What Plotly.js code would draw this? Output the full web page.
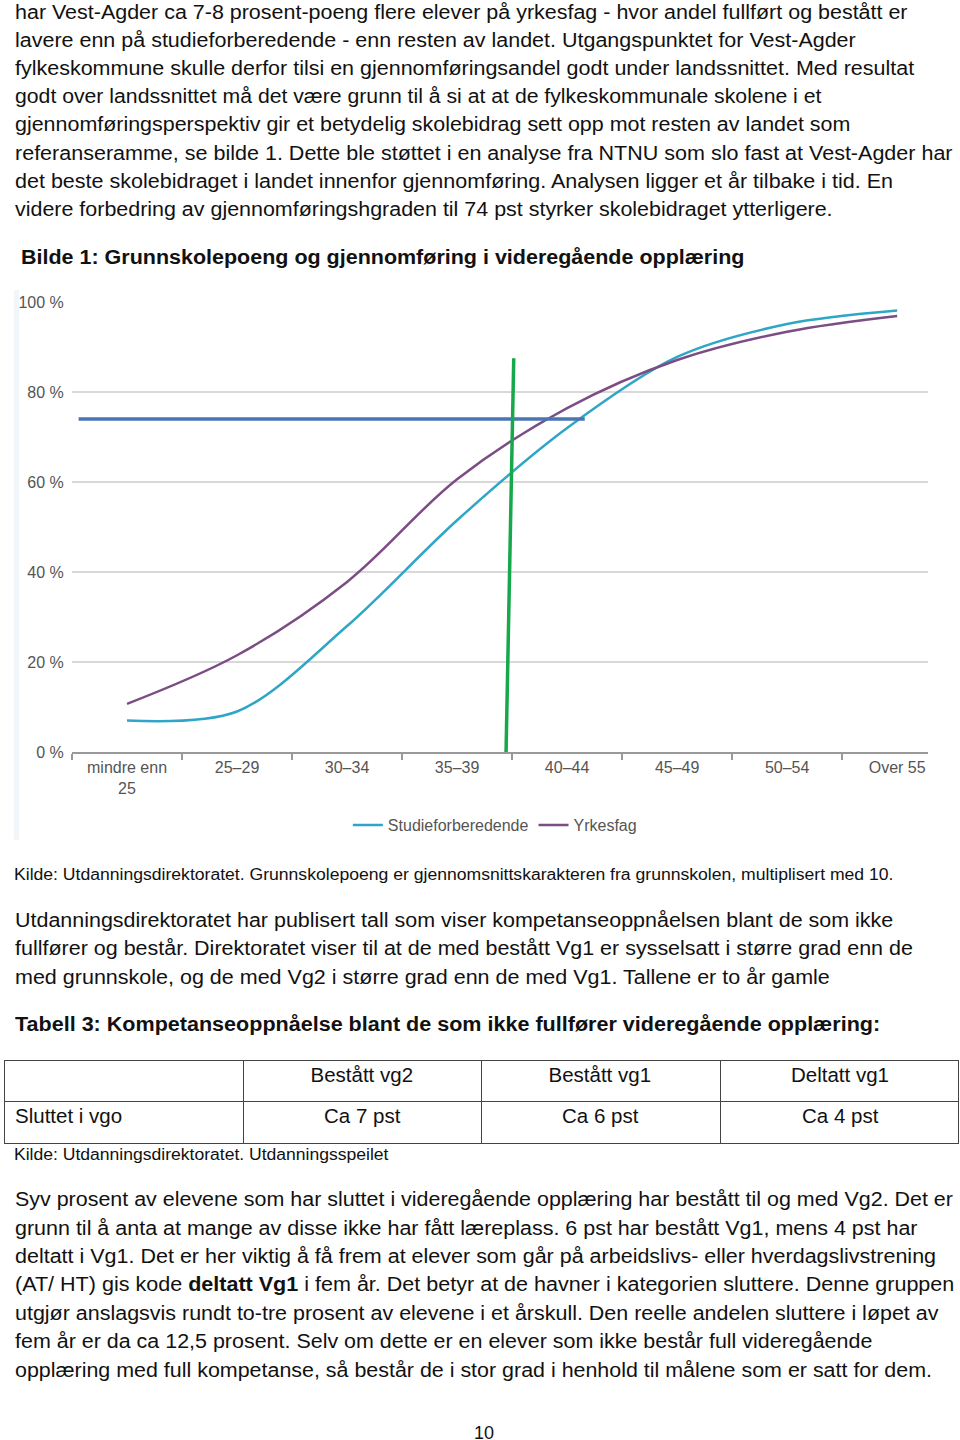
<!DOCTYPE html>
<html><head><meta charset="utf-8">
<script src="https://cdn.plot.ly/plotly-3.0.1.min.js"></script>
<style>
html,body{margin:0;padding:0;background:#fff;}
body{width:960px;height:1440px;position:relative;overflow:hidden;font-family:"Liberation Sans",Arial,sans-serif;color:#111;}
.ln{position:absolute;white-space:nowrap;transform-origin:0 0;line-height:1;}
#chart{position:absolute;left:0;top:290px;width:960px;height:550px;}
#stripe{position:absolute;left:14px;top:290px;width:5px;height:550px;background:#f1f6fb;}
#tbl{position:absolute;left:4px;top:1060px;width:955px;height:83px;border-collapse:collapse;}
#tbl td{border:1.2px solid #444;padding:0;}
</style></head><body>

<div class="ln" data-l="15" data-b="18.5" data-r="908" data-s="20">har Vest-Agder ca 7-8 prosent-poeng flere elever på yrkesfag - hvor andel fullført og bestått er</div>
<div class="ln" data-l="15" data-b="46.7" data-r="856" data-s="20">lavere enn på studieforberedende - enn resten av landet. Utgangspunktet for Vest-Agder</div>
<div class="ln" data-l="15" data-b="74.9" data-r="914" data-s="20">fylkeskommune skulle derfor tilsi en gjennomføringsandel godt under landssnittet. Med resultat</div>
<div class="ln" data-l="15" data-b="103.1" data-r="821" data-s="20">godt over landssnittet må det være grunn til å si at at de fylkeskommunale skolene i et</div>
<div class="ln" data-l="15" data-b="131.3" data-r="850" data-s="20">gjennomføringsperspektiv gir et betydelig skolebidrag sett opp mot resten av landet som</div>
<div class="ln" data-l="15" data-b="159.5" data-r="952" data-s="20">referanseramme, se bilde 1. Dette ble støttet i en analyse fra NTNU som slo fast at Vest-Agder har</div>
<div class="ln" data-l="15" data-b="187.7" data-r="893" data-s="20">det beste skolebidraget i landet innenfor gjennomføring. Analysen ligger et år tilbake i tid. En</div>
<div class="ln" data-l="15" data-b="215.9" data-r="833" data-s="20">videre forbedring av gjennomføringshgraden til 74 pst styrker skolebidraget ytterligere.</div>

<div class="ln" data-l="21" data-b="264" data-r="744" data-s="20"><b>Bilde 1: Grunnskolepoeng og gjennomføring i videregående opplæring</b></div>

<div id="stripe"></div>
<div id="chart"></div>

<div class="ln" data-l="14" data-b="881" data-r="893" data-s="16">Kilde: Utdanningsdirektoratet. Grunnskolepoeng er gjennomsnittskarakteren fra grunnskolen, multiplisert med 10.</div>

<div class="ln" data-l="15" data-b="927" data-r="893" data-s="20">Utdanningsdirektoratet har publisert tall som viser kompetanseoppnåelsen blant de som ikke</div>
<div class="ln" data-l="15" data-b="955" data-r="913" data-s="20">fullfører og består. Direktoratet viser til at de med bestått Vg1 er sysselsatt i større grad enn de</div>
<div class="ln" data-l="15" data-b="984" data-r="830" data-s="20">med grunnskole, og de med Vg2 i større grad enn de med Vg1. Tallene er to år gamle</div>

<div class="ln" data-l="15" data-b="1031" data-r="880" data-s="20"><b>Tabell 3: Kompetanseoppnåelse blant de som ikke fullfører videregående opplæring:</b></div>

<table id="tbl"><tr style="height:41px"><td></td><td></td><td></td><td></td></tr><tr style="height:42px"><td></td><td></td><td></td><td></td></tr></table>
<div class="ln" data-c="362" data-b="1082" data-s="20.5">Bestått vg2</div>
<div class="ln" data-c="600" data-b="1082" data-s="20.5">Bestått vg1</div>
<div class="ln" data-c="840" data-b="1082" data-s="20.5">Deltatt vg1</div>
<div class="ln" data-l="15" data-b="1123" data-s="20.5">Sluttet i vgo</div>
<div class="ln" data-c="362" data-b="1123" data-s="20.5">Ca 7 pst</div>
<div class="ln" data-c="600" data-b="1123" data-s="20.5">Ca 6 pst</div>
<div class="ln" data-c="840" data-b="1123" data-s="20.5">Ca 4 pst</div>

<div class="ln" data-l="14" data-b="1161" data-r="389" data-s="16">Kilde: Utdanningsdirektoratet. Utdanningsspeilet</div>

<div class="ln" data-l="15" data-b="1206" data-r="953" data-s="20">Syv prosent av elevene som har sluttet i videregående opplæring har bestått til og med Vg2. Det er</div>
<div class="ln" data-l="15" data-b="1235" data-r="917" data-s="20">grunn til å anta at mange av disse ikke har fått læreplass. 6 pst har bestått Vg1, mens 4 pst har</div>
<div class="ln" data-l="15" data-b="1263" data-r="936" data-s="20">deltatt i Vg1. Det er her viktig å få frem at elever som går på arbeidslivs- eller hverdagslivstrening</div>
<div class="ln" data-l="15" data-b="1291" data-r="954" data-s="20">(AT/ HT) gis kode <b>deltatt Vg1</b> i fem år. Det betyr at de havner i kategorien sluttere. Denne gruppen</div>
<div class="ln" data-l="15" data-b="1320" data-r="938" data-s="20">utgjør anslagsvis rundt to-tre prosent av elevene i et årskull. Den reelle andelen sluttere i løpet av</div>
<div class="ln" data-l="15" data-b="1348" data-r="872" data-s="20">fem år er da ca 12,5 prosent. Selv om dette er en elever som ikke består full videregående</div>
<div class="ln" data-l="15" data-b="1377" data-r="932" data-s="20">opplæring med full kompetanse, så består de i stor grad i henhold til målene som er satt for dem.</div>

<div class="ln" data-c="484" data-b="1439" data-s="18">10</div>

<script>
// ---- chart data ----
const ageGroups = ['mindre enn<br>25', '25–29', '30–34', '35–39', '40–44', '45–49', '50–54', 'Over 55'];
const studieforberedende = [7.0, 9.0, 28.0, 51.5, 72.0, 87.8, 95.1, 98.1];
const yrkesfag = [10.7, 21.5, 37.8, 60.6, 76.4, 87.1, 93.4, 96.9];
const yTickValues = [0, 20, 40, 60, 80, 100];
const targetLevel = 74;                 // horizontal reference (pst)
const targetSpan = [-0.44, 4.16];       // category index span of the reference line
const markerLineX = [3.445, 3.515];     // category index of the vertical marker (bottom, top)
const markerLineY = [0, 87.5];

// ---- text line placement ----
document.querySelectorAll('.ln').forEach(el => {
  const fs = parseFloat(el.dataset.s);
  el.style.fontSize = fs + 'px';
  el.style.top = (parseFloat(el.dataset.b) - 0.8465 * fs) + 'px';
  const w = el.offsetWidth;
  if (el.dataset.r !== undefined) {
    const l = parseFloat(el.dataset.l);
    el.style.left = l + 'px';
    el.style.transform = 'scaleX(' + ((parseFloat(el.dataset.r) - l) / w) + ')';
  } else if (el.dataset.c !== undefined) {
    el.style.left = (parseFloat(el.dataset.c) - w / 2) + 'px';
  } else {
    el.style.left = el.dataset.l + 'px';
  }
});

// ---- chart ----
const fontFam = '"Liberation Sans", Arial, sans-serif';
const traces = [
  {x: ageGroups, y: studieforberedende, name: 'Studieforberedende', type: 'scatter', mode: 'lines',
   line: {color: '#2fa6c8', width: 2.5, shape: 'spline', smoothing: 0.9}},
  {x: ageGroups, y: yrkesfag, name: 'Yrkesfag', type: 'scatter', mode: 'lines',
   line: {color: '#7b4d84', width: 2.5, shape: 'spline', smoothing: 1}}
];
const layout = {
  width: 960, height: 550,
  margin: {l: 72, r: 32, t: 12, b: 88},
  paper_bgcolor: 'rgba(0,0,0,0)', plot_bgcolor: 'rgba(0,0,0,0)',
  font: {family: fontFam, size: 16, color: '#555'},
  showlegend: true,
  xaxis: {type: 'category', range: [-0.5, 7.28], tickson: 'boundaries', ticks: 'outside', ticklen: 6,
          tickcolor: '#999', tickwidth: 1.5, showline: true, linecolor: '#999', linewidth: 2,
          showgrid: false, zeroline: false, fixedrange: true, automargin: false,
          tickfont: {size: 16, color: '#555'}},
  yaxis: {range: [0, 100], tickmode: 'array', tickvals: yTickValues, ticktext: yTickValues.map(v => v + ' %'),
          showgrid: true, gridcolor: '#d9d9d9', gridwidth: 1.5, zeroline: false, showline: false,
          ticks: 'outside', ticklen: 4, tickcolor: 'rgba(0,0,0,0)', fixedrange: true, automargin: false,
          tickfont: {size: 16, color: '#555'}},
  legend: {orientation: 'h', x: 0.494, xanchor: 'center', yref: 'container', y: 0.027, yanchor: 'middle',
           font: {size: 16, color: '#555'}, itemwidth: 30, bgcolor: 'rgba(0,0,0,0)'},
  shapes: [
    {type: 'line', xref: 'x', yref: 'y', x0: targetSpan[0], x1: targetSpan[1], y0: targetLevel, y1: targetLevel,
     line: {color: '#4a74b4', width: 3.5}, layer: 'above'},
    {type: 'line', xref: 'x', yref: 'y', x0: markerLineX[0], x1: markerLineX[1], y0: markerLineY[0], y1: markerLineY[1],
     line: {color: '#16a84a', width: 3.5}, layer: 'above'}
  ]
};
Plotly.newPlot('chart', traces, layout, {displayModeBar: false, staticPlot: true});
</script>
</body></html>
